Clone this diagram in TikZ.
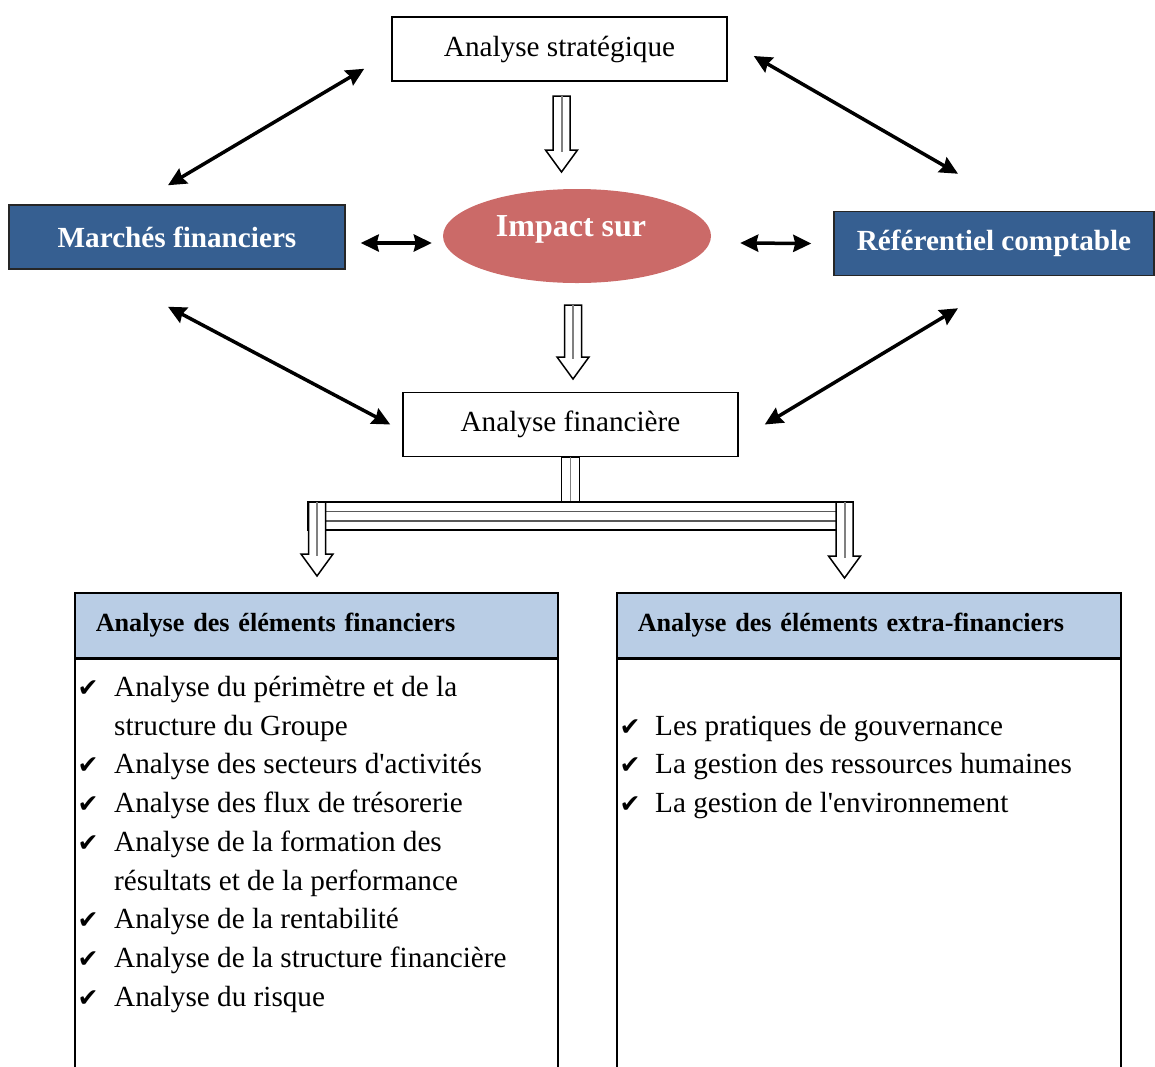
\documentclass[tikz,border=0pt]{standalone}
\usepackage{fontspec}
\setmainfont{Liberation Serif}
\newfontfamily\symfont{DejaVu Sans}
\usepackage{xcolor}
\usetikzlibrary{arrows.meta,shapes.geometric,positioning}

\definecolor{boxblue}{RGB}{54,95,145}
\definecolor{impactred}{RGB}{203,106,104}
\definecolor{headblue}{RGB}{185,205,229}

\tikzset{
  plainbox/.style={draw, line width=1.5pt, minimum width=335, minimum height=64,
    font=\fontsize{29.2}{35}\selectfont},
  bluebox/.style={draw=black!85, fill=boxblue, text=white, line width=1.5pt,
    minimum height=64, font=\bfseries\fontsize{29.2}{35}\selectfont},
  biarrow/.style={{Stealth[length=18pt,width=17pt,inset=2pt]}-{Stealth[length=18pt,width=17pt,inset=2pt]}, line width=3.5pt},
  hollow/.style={draw, fill=white, line width=1.5pt},
  headbox/.style={draw, fill=headblue, line width=1.5pt, anchor=north west, minimum height=65,
    inner xsep=21pt, align=left, font=\bfseries\fontsize{26.2}{30}\selectfont},
  panel/.style={draw, line width=1.5pt, anchor=north west, minimum height=440},
  item/.style={anchor=base west, inner sep=0pt, font=\fontsize{29.2}{38.8}\selectfont},
  chk/.style={anchor=base, inner sep=0pt, font=\symfont\fontsize{25}{25}\selectfont}
}

\begin{document}
\begin{tikzpicture}[x=1pt, y=-1pt]
  \path[use as bounding box, clip] (0,0) rectangle (1155,1066);

  % top row
  \node[plainbox] (strat) at (559.5,49) {Analyse stratégique};
  \node[ellipse, fill=impactred, minimum width=268, minimum height=94] (impact) at (577,236) {};
  \node[text=white, font=\bfseries\fontsize{32}{36}\selectfont] (impactlbl) at (571,229) {Impact sur};
  \node[bluebox, minimum width=336] (marches) at (177,237) {Marchés financiers};
  \node[bluebox, minimum width=320] (referentiel) at (994,243.5) {Référentiel comptable};
  \node[plainbox] (fin) at (570.5,424.5) {Analyse financière};

  % arrows both ways
  \draw[biarrow] ([shift={(15,6)}]marches.east) -- ([shift={(-11,7)}]impact.west);
  \draw[biarrow] ([shift={(29,7)}]impact.east) -- ([shift={(-22,0)}]referentiel.west);
  \draw[biarrow] ([shift={(-27,-13)}]strat.south west) -- ([shift={(-9,-19)}]marches.north);
  \draw[biarrow] ([shift={(26,7)}]strat.east) -- ([shift={(-36,-37)}]referentiel.north);
  \draw[biarrow] ([shift={(-9,37)}]marches.south) -- ([shift={(-12,0)}]fin.west);
  \draw[biarrow] ([shift={(-36,32)}]referentiel.south) -- ([shift={(26,0)}]fin.east);

  % bar under Analyse financiere
  \draw[hollow] ([xshift=-9pt]fin.south) rectangle ([xshift=9pt]fin.south |- 0,502);
  \draw[gray, line width=1.5pt] (fin.south) -- (fin.south |- 0,502);
  \draw[hollow] (308,502) rectangle (853,530);
  \draw[gray!70!black, line width=1.2pt] (308,511.5) -- (853,511.5);
  \draw[gray!70!black, line width=1.2pt] (308,521) -- (853,521);

  % hollow down arrows
  \foreach \x/\ya/\yb in {561.5/96/172, 573/305/379, 317/502/576, 844.5/502/578} {
    \draw[hollow] (\x-8.5,\ya) -- (\x+8.5,\ya) -- (\x+8.5,\yb-22) -- (\x+16,\yb-22)
      -- (\x,\yb) -- (\x-16,\yb-22) -- (\x-8.5,\yb-22) -- cycle;
    \draw[gray, line width=2pt] (\x,\ya) -- (\x,\yb-20);
  }

  % the two panels
  \node[headbox, text width=441] (hfin) at (74,592) {Analyse des éléments financiers};
  \node[panel, minimum width=483] (bfin) at (hfin.south west) {};
  \node[headbox, text width=462] (hextra) at (616,592) {Analyse des éléments extra-financiers};
  \node[panel, minimum width=504] (bextra) at (hextra.south west) {};

  \foreach \y in {696,773,812,851,928,967,1006}
    \node[chk] at (88,\y) {✔};
  \foreach \y/\txt in {696/Analyse du périmètre et de la, 735/structure du Groupe,
      773/Analyse des secteurs d\textquotesingle activités, 812/Analyse des flux de trésorerie,
      851/Analyse de la formation des, 890/résultats et de la performance,
      928/Analyse de la rentabilité, 967/Analyse de la structure financière,
      1006/Analyse du risque}
    \node[item] at (114,\y) {\txt};

  \foreach \y/\txt in {735/Les pratiques de gouvernance,
      773/La gestion des ressources humaines, 812/La gestion de l\textquotesingle environnement} {
    \node[chk] at (630,\y) {✔};
    \node[item] at (655,\y) {\txt};
  }

\end{tikzpicture}
\end{document}
